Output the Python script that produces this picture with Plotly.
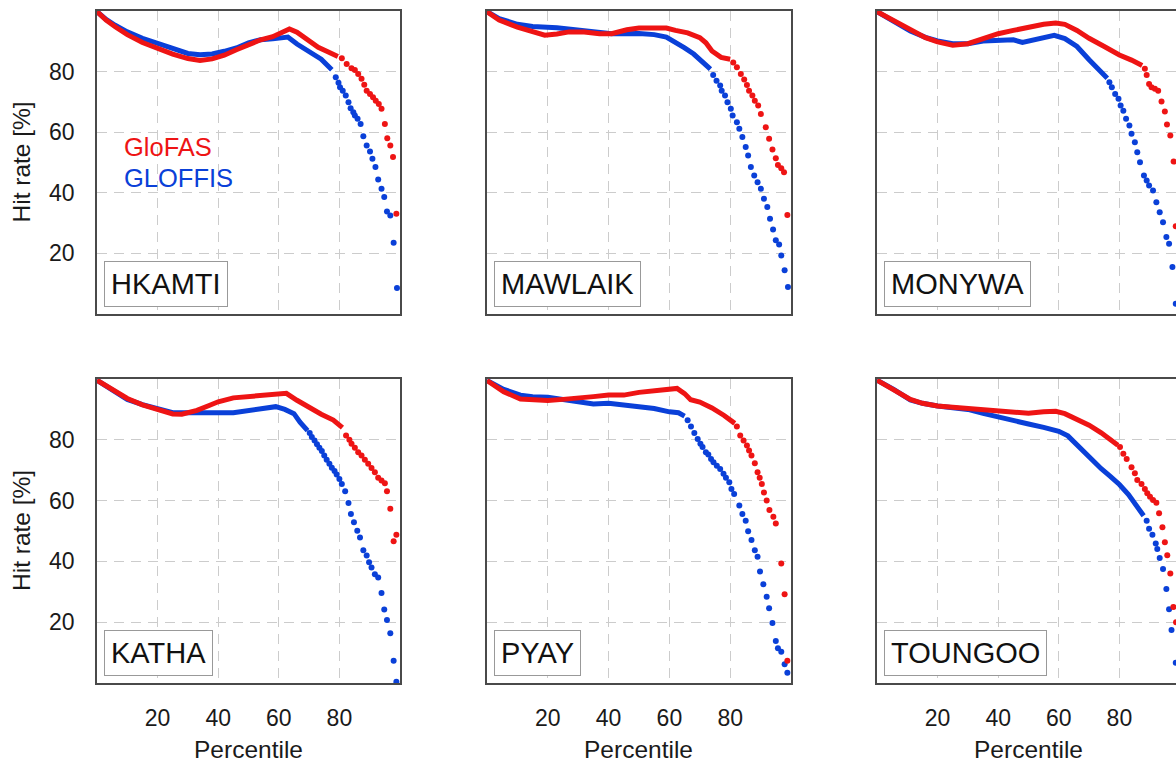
import plotly.graph_objects as go

W, H = 1176, 763
RED = "#ee1414"
BLUE = "#0a40d8"
FONT = "Liberation Sans, Arial, sans-serif"

stations = ["HKAMTI", "MAWLAIK", "MONYWA", "KATHA", "PYAY", "TOUNGOO"]
x_ticks = [20, 40, 60, 80]
y_ticks = [20, 40, 60, 80]

# ---------------- HKAMTI ----------------
hk_glofas_line_x = [0, 3, 6, 10, 15, 20, 25, 30, 34, 38, 42, 46, 50, 54, 58, 61, 63.5, 66, 68, 70, 73, 76, 79.5]
hk_glofas_line_y = [99.8, 97.0, 94.8, 92.2, 89.6, 87.6, 85.8, 84.3, 83.7, 84.2, 85.4, 87.2, 89.0, 90.5, 91.5, 93.0, 94.1, 93.0, 91.6, 90.5, 88.0, 86.6, 85.0]
hk_glofas_pts_x = [80.8, 82.4, 84.0, 85.1, 86.2, 87.3, 88.2, 89.0, 90.1, 91.1, 92.0, 93.0, 93.9, 95.0, 95.8, 96.8, 97.7, 98.8]
hk_glofas_pts_y = [84.4, 82.5, 81.1, 80.5, 79.2, 77.6, 75.7, 73.7, 72.6, 71.5, 70.4, 69.3, 67.7, 62.7, 58.0, 55.6, 51.8, 33.1]
hk_gloffis_line_x = [0, 3, 6, 10, 15, 20, 25, 30, 34, 38, 42, 46, 50, 54, 58, 61, 63, 66, 70, 74, 77.5]
hk_gloffis_line_y = [99.8, 97.2, 95.3, 93.1, 91.0, 89.2, 87.5, 86.0, 85.6, 85.8, 86.7, 87.8, 89.5, 90.5, 90.8, 91.0, 91.4, 89.1, 86.6, 84.1, 80.6]
hk_gloffis_pts_x = [78.8, 79.7, 80.2, 81.1, 82.1, 83.0, 83.7, 84.6, 85.1, 86.0, 87.0, 87.9, 89.0, 90.1, 90.9, 91.9, 92.8, 93.9, 94.8, 95.7, 96.8, 97.9, 99.0]
hk_gloffis_pts_y = [78.1, 76.3, 74.8, 73.7, 72.1, 69.9, 67.9, 66.6, 65.5, 64.4, 62.7, 58.7, 55.6, 53.6, 51.2, 48.5, 44.4, 41.3, 38.6, 33.8, 32.5, 23.5, 8.6]

# ---------------- MAWLAIK ----------------
mw_glofas_line_x = [0, 4, 10, 15, 19, 23, 27, 32, 37, 41, 46, 50, 55, 59, 62, 66, 70, 72, 74, 77, 80]
mw_glofas_line_y = [99.8, 97.0, 94.7, 93.1, 92.0, 92.4, 93.1, 93.1, 92.5, 92.5, 93.8, 94.4, 94.6, 94.4, 93.6, 92.8, 91.2, 89.5, 86.8, 84.7, 84.1]
mw_glofas_pts_x = [81.0, 82.2, 83.5, 84.6, 85.5, 86.2, 87.3, 88.1, 89.2, 90.1, 91.7, 92.8, 93.9, 95.0, 95.7, 96.8, 97.7, 98.8]
mw_glofas_pts_y = [83.0, 81.4, 79.2, 77.4, 75.6, 73.7, 72.1, 70.4, 68.8, 66.0, 61.6, 57.8, 54.3, 51.4, 49.2, 48.1, 46.8, 32.7]
mw_gloffis_line_x = [0, 4, 10, 15, 23, 32, 41, 50, 55, 59, 62, 65, 68, 71, 73.5]
mw_gloffis_line_y = [99.8, 97.5, 95.6, 94.9, 94.5, 93.4, 92.5, 92.6, 92.2, 91.4, 89.8, 87.8, 85.8, 83.2, 80.8]
mw_gloffis_pts_x = [74.4, 75.5, 76.7, 77.2, 78.3, 79.1, 80.2, 80.8, 82.2, 83.0, 84.0, 85.1, 85.9, 86.8, 87.9, 89.0, 90.1, 91.1, 92.2, 93.1, 94.1, 95.0, 96.1, 96.8, 97.9, 99.0]
mw_gloffis_pts_y = [78.9, 77.0, 75.4, 73.7, 72.1, 69.9, 67.7, 65.5, 63.3, 61.1, 58.4, 55.1, 52.3, 48.5, 45.7, 43.5, 41.3, 38.0, 35.3, 31.4, 27.9, 24.3, 22.9, 19.3, 14.4, 8.9]

# ---------------- MONYWA ----------------
mo_glofas_line_x = [0, 5.5, 11, 16, 20, 25, 30, 35, 40, 45, 50, 55, 59, 62, 66, 70, 75, 80, 84, 87.5]
mo_glofas_line_y = [99.8, 96.8, 93.6, 91.2, 89.8, 88.7, 89.2, 90.9, 92.5, 93.6, 94.7, 95.6, 96.0, 95.6, 93.6, 91.0, 88.3, 85.5, 83.8, 82.0]
mo_glofas_pts_x = [88.4, 89.0, 89.8, 90.6, 91.7, 92.8, 93.9, 95.0, 95.7, 96.8, 97.9, 98.6]
mo_glofas_pts_y = [80.9, 78.9, 75.9, 74.8, 74.3, 73.7, 70.1, 66.8, 62.5, 58.9, 50.3, 29.0]
mo_gloffis_line_x = [0, 5.5, 11, 16, 20, 25, 30, 35, 40, 45, 48, 52, 55, 58.5, 62, 66, 70, 73.5, 76]
mo_gloffis_line_y = [99.8, 96.7, 93.4, 91.3, 90.1, 89.2, 89.2, 90.1, 90.3, 90.5, 89.6, 90.5, 91.2, 92.0, 90.9, 88.3, 83.9, 80.5, 77.8]
mo_gloffis_pts_x = [76.7, 77.5, 78.6, 79.7, 80.4, 81.3, 82.2, 83.3, 84.0, 85.1, 85.9, 86.8, 88.1, 89.0, 89.8, 91.1, 92.2, 93.3, 94.4, 95.5, 96.4, 97.5, 98.6]
mo_gloffis_pts_y = [76.5, 74.8, 72.6, 71.0, 68.8, 67.1, 64.4, 62.2, 59.5, 56.7, 53.4, 50.1, 45.7, 44.1, 42.4, 40.8, 36.9, 33.6, 30.3, 25.4, 23.2, 15.5, 3.4]

# ---------------- KATHA ----------------
ka_glofas_line_x = [0, 5, 10, 15, 20, 25, 28, 33, 37, 40, 45, 50, 55, 60, 62.5, 66, 70, 74, 78, 81]
ka_glofas_line_y = [99.6, 96.5, 93.6, 91.5, 89.8, 88.5, 88.4, 89.7, 91.3, 92.5, 93.8, 94.3, 94.8, 95.1, 95.3, 93.0, 90.6, 88.4, 86.5, 84.0]
ka_glofas_pts_x = [82.2, 83.3, 84.0, 85.1, 86.2, 87.3, 88.4, 89.5, 90.6, 91.7, 92.8, 93.9, 95.0, 95.7, 96.8, 97.9, 98.8]
ka_glofas_pts_y = [81.4, 80.0, 78.7, 77.4, 75.9, 74.8, 73.4, 72.1, 70.7, 69.3, 67.5, 66.6, 65.7, 63.1, 57.3, 46.6, 48.8]
ka_gloffis_line_x = [0, 5, 10, 15, 20, 25, 30, 35, 40, 45, 50, 55, 59, 62, 65, 67, 69.5]
ka_gloffis_line_y = [99.6, 96.3, 93.3, 91.6, 90.3, 88.9, 88.9, 88.7, 88.9, 88.9, 89.6, 90.0, 90.9, 90.0, 88.6, 85.8, 83.0]
ka_gloffis_pts_x = [70.2, 70.9, 71.8, 72.6, 73.4, 74.2, 75.0, 75.8, 76.7, 77.5, 78.4, 79.1, 80.0, 80.8, 81.9, 83.0, 83.8, 84.8, 85.9, 86.8, 87.9, 89.0, 89.8, 90.6, 91.7, 92.8, 93.9, 94.8, 95.7, 96.8, 97.9, 98.8]
ka_gloffis_pts_y = [82.2, 80.9, 79.8, 78.5, 77.4, 76.3, 74.8, 73.4, 72.1, 70.8, 69.7, 68.6, 67.1, 65.5, 63.1, 59.2, 55.6, 52.9, 50.1, 47.9, 43.7, 41.9, 39.7, 38.0, 35.8, 34.7, 29.6, 24.2, 20.7, 16.4, 7.3, 0.4]

# ---------------- PYAY ----------------
py_glofas_line_x = [0, 5.5, 11, 15, 20, 25, 30, 35, 40, 45, 50, 55, 59, 62.5, 65, 67, 70, 74, 78, 81.5]
py_glofas_line_y = [99.5, 95.8, 93.4, 93.0, 92.9, 93.3, 93.6, 94.2, 94.7, 94.7, 95.6, 96.1, 96.4, 96.9, 95.2, 93.2, 92.4, 90.5, 88.0, 85.4]
py_glofas_pts_x = [82.2, 83.3, 84.4, 85.5, 86.2, 87.0, 88.1, 89.0, 89.7, 90.4, 91.1, 92.0, 92.9, 94.2, 95.0, 96.8, 97.9, 98.8]
py_glofas_pts_y = [84.4, 81.4, 79.8, 78.1, 76.5, 74.8, 72.3, 69.3, 67.5, 65.5, 62.7, 60.0, 56.9, 54.7, 52.5, 39.3, 29.2, 7.3]
py_gloffis_line_x = [0, 5.5, 11, 15, 20, 25, 30, 35, 40, 45, 50, 55, 60, 63, 65]
py_gloffis_line_y = [99.5, 96.6, 94.7, 94.2, 94.0, 93.3, 92.5, 91.8, 92.0, 91.4, 90.9, 90.3, 89.2, 88.9, 87.8]
py_gloffis_pts_x = [66.0, 67.1, 68.2, 69.3, 70.2, 70.9, 72.0, 72.8, 73.7, 74.5, 75.6, 76.7, 77.8, 78.6, 79.7, 80.4, 81.3, 83.0, 84.0, 85.1, 85.9, 87.0, 88.1, 89.0, 89.8, 90.9, 92.0, 92.8, 93.9, 95.0, 95.7, 96.8, 97.9, 98.8]
py_gloffis_pts_y = [86.4, 84.4, 82.2, 80.3, 78.7, 77.6, 75.9, 75.2, 73.7, 72.6, 71.5, 70.4, 68.8, 67.5, 66.0, 63.8, 62.2, 58.4, 55.6, 53.4, 49.9, 47.0, 43.7, 41.5, 36.7, 32.5, 28.4, 24.6, 19.7, 13.8, 11.4, 10.3, 6.2, 3.4]

# ---------------- TOUNGOO ----------------
to_glofas_line_x = [0, 5.5, 11, 15, 20, 25, 30, 35, 40, 45, 50, 55, 59, 62, 66, 70, 74, 77, 79.5]
to_glofas_line_y = [99.6, 96.4, 93.3, 92.0, 91.1, 90.7, 90.3, 89.8, 89.6, 89.2, 88.7, 89.2, 89.4, 88.6, 86.9, 84.8, 82.3, 80.0, 78.2]
to_glofas_pts_x = [80.2, 81.3, 82.4, 84.0, 85.1, 85.9, 87.3, 88.4, 89.2, 90.1, 91.1, 92.2, 93.1, 94.2, 95.0, 95.8, 96.8, 97.8, 98.7]
to_glofas_pts_y = [77.6, 75.4, 73.7, 71.0, 69.0, 66.8, 65.5, 63.8, 62.4, 61.3, 60.2, 59.3, 55.8, 51.2, 46.3, 42.0, 36.0, 25.0, 20.0]
to_gloffis_line_x = [0, 5.5, 11, 15, 20, 25, 30, 35, 40, 45, 50, 55, 60, 63, 66, 70, 74, 77, 80, 83, 86, 88]
to_gloffis_line_y = [99.6, 96.6, 93.1, 92.0, 91.1, 90.7, 90.0, 88.7, 87.4, 86.3, 85.2, 84.1, 82.8, 81.3, 78.3, 74.2, 70.5, 68.0, 65.3, 62.0, 58.0, 55.0]
to_gloffis_pts_x = [89.0, 89.8, 90.9, 92.0, 92.5, 93.3, 94.4, 95.5, 96.4, 97.2, 98.6]
to_gloffis_pts_y = [53.4, 50.7, 48.8, 45.9, 44.1, 41.1, 37.5, 30.9, 24.3, 17.4, 6.7]

panel_data = [
    (hk_glofas_line_x, hk_glofas_line_y, hk_glofas_pts_x, hk_glofas_pts_y,
     hk_gloffis_line_x, hk_gloffis_line_y, hk_gloffis_pts_x, hk_gloffis_pts_y),
    (mw_glofas_line_x, mw_glofas_line_y, mw_glofas_pts_x, mw_glofas_pts_y,
     mw_gloffis_line_x, mw_gloffis_line_y, mw_gloffis_pts_x, mw_gloffis_pts_y),
    (mo_glofas_line_x, mo_glofas_line_y, mo_glofas_pts_x, mo_glofas_pts_y,
     mo_gloffis_line_x, mo_gloffis_line_y, mo_gloffis_pts_x, mo_gloffis_pts_y),
    (ka_glofas_line_x, ka_glofas_line_y, ka_glofas_pts_x, ka_glofas_pts_y,
     ka_gloffis_line_x, ka_gloffis_line_y, ka_gloffis_pts_x, ka_gloffis_pts_y),
    (py_glofas_line_x, py_glofas_line_y, py_glofas_pts_x, py_glofas_pts_y,
     py_gloffis_line_x, py_gloffis_line_y, py_gloffis_pts_x, py_gloffis_pts_y),
    (to_glofas_line_x, to_glofas_line_y, to_glofas_pts_x, to_glofas_pts_y,
     to_gloffis_line_x, to_gloffis_line_y, to_gloffis_pts_x, to_gloffis_pts_y),
]

# layout geometry (pixels)
col_left = [97, 487, 877]
col_right = [400, 791, 1176]
row_top = [11, 379]
row_bottom = [314, 683]
px_per_unit = 3.03

fig = go.Figure()
layout = dict(
    width=W, height=H,
    margin=dict(l=0, r=0, t=0, b=0),
    paper_bgcolor="white", plot_bgcolor="white",
    showlegend=False,
    font=dict(family=FONT, size=23, color="#1a1a1a"),
    annotations=[],
)

for i, name in enumerate(stations):
    r, c = divmod(i, 3)
    k = i + 1
    xa = "x" if k == 1 else f"x{k}"
    ya = "y" if k == 1 else f"y{k}"
    (gx, gy, gpx, gpy, fx, fy, fpx, fpy) = panel_data[i]
    fig.add_trace(go.Scatter(x=fx, y=fy, mode="lines", line=dict(color=BLUE, width=5),
                             xaxis=xa, yaxis=ya, hoverinfo="skip"))
    fig.add_trace(go.Scatter(x=fpx, y=fpy, mode="markers", marker=dict(color=BLUE, size=6),
                             xaxis=xa, yaxis=ya))
    fig.add_trace(go.Scatter(x=gx, y=gy, mode="lines", line=dict(color=RED, width=5),
                             xaxis=xa, yaxis=ya, hoverinfo="skip"))
    fig.add_trace(go.Scatter(x=gpx, y=gpy, mode="markers", marker=dict(color=RED, size=6),
                             xaxis=xa, yaxis=ya))

    clipped = (c == 2)
    xmax = (col_right[c] - col_left[c]) / px_per_unit if clipped else 100
    xdom = [col_left[c] / W, col_right[c] / W]
    ydom = [1 - row_bottom[r] / H, 1 - row_top[r] / H]

    layout["xaxis" if k == 1 else f"xaxis{k}"] = dict(
        domain=xdom, range=[0, xmax], anchor=ya,
        tickvals=x_ticks, showticklabels=(r == 1),
        ticks="outside", ticklen=14, tickcolor="rgba(0,0,0,0)",
        tickfont=dict(size=23, color="#1a1a1a"),
        showgrid=True, gridcolor="#cccccc", gridwidth=1.3, griddash="10px,7px",
        zeroline=False, showline=True, linecolor="#4a4a4a", linewidth=1.5, mirror=True,
    )
    layout["yaxis" if k == 1 else f"yaxis{k}"] = dict(
        domain=ydom, range=[0, 100], anchor=xa,
        tickvals=y_ticks, showticklabels=(c == 0),
        ticks="outside", ticklen=16, tickcolor="rgba(0,0,0,0)",
        tickfont=dict(size=23, color="#1a1a1a"),
        showgrid=True, gridcolor="#cccccc", gridwidth=1.3, griddash="10px,7px",
        zeroline=False, showline=True, linecolor="#4a4a4a", linewidth=1.5,
        mirror=(not clipped),
    )

    # station label box
    layout["annotations"].append(dict(
        text=name, xref="paper", yref="paper",
        x=(col_left[c] + 7) / W, y=1 - (row_bottom[r] - 7) / H,
        xanchor="left", yanchor="bottom", showarrow=False,
        font=dict(size=29, color="#111111", family=FONT),
        bordercolor="#999999", borderwidth=1, borderpad=6, bgcolor="white",
    ))
    if c == 0:
        layout["annotations"].append(dict(
            text="Hit rate [%]", xref="paper", yref="paper",
            x=21 / W, y=1 - (row_top[r] + row_bottom[r]) / 2 / H,
            textangle=-90, showarrow=False, xanchor="center", yanchor="middle",
            font=dict(size=24.5, color="#1a1a1a", family=FONT),
        ))
    if r == 1:
        layout["annotations"].append(dict(
            text="Percentile", xref="paper", yref="paper",
            x=(col_left[c] + 151.5) / W, y=1 - 749 / H,
            showarrow=False, xanchor="center", yanchor="middle",
            font=dict(size=24.5, color="#1a1a1a", family=FONT),
        ))

# in-panel legend (first panel)
layout["annotations"].append(dict(
    text="GloFAS", xref="paper", yref="paper", x=122 / W, y=1 - 147 / H,
    xanchor="left", yanchor="middle", showarrow=False,
    font=dict(size=25.5, color=RED, family=FONT)))
layout["annotations"].append(dict(
    text="GLOFFIS", xref="paper", yref="paper", x=122 / W, y=1 - 178 / H,
    xanchor="left", yanchor="middle", showarrow=False,
    font=dict(size=25.5, color=BLUE, family=FONT)))

fig.update_layout(**layout)
fig.write_html("out.html", config={"displayModeBar": False},
               post_script="document.body.style.margin='0px';")
